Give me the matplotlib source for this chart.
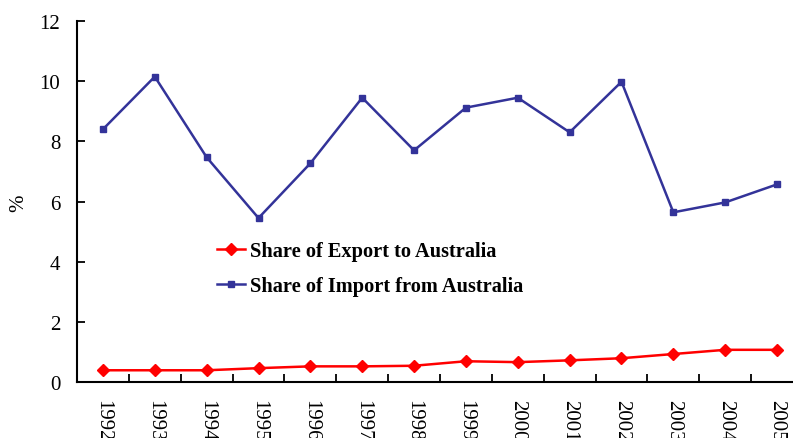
import matplotlib
matplotlib.use("Agg")
import matplotlib.pyplot as plt

# Data
years = ['1992', '1993', '1994', '1995', '1996', '1997', '1998',
         '1999', '2000', '2001', '2002', '2003', '2004', '2005']
export_share = [0.39, 0.39, 0.39, 0.46, 0.52, 0.52, 0.54,
                0.69, 0.66, 0.72, 0.79, 0.93, 1.07, 1.07]
import_share = [8.40, 10.15, 7.47, 5.45, 7.27, 9.45, 7.70,
                9.12, 9.45, 8.30, 9.98, 5.64, 5.97, 6.57]

plt.rcParams['font.family'] = ['Liberation Serif', 'DejaVu Serif']

fig = plt.figure(figsize=(7.93, 4.39), dpi=100)
# axes runs past the right edge, as in the cropped reference
ax = fig.add_axes([77 / 793, 1 - 383 / 439, 726 / 793, 361 / 439])

x = list(range(len(years)))
ax.plot(x, export_share, color='#ff0000', lw=1.8, marker='D', ms=6.5,
        label='Share of Export to Australia')
ax.plot(x, import_share, color='#333399', lw=1.8, marker='s', ms=4.5,
        label='Share of Import from Australia')

ax.set_xlim(-0.5, len(years) - 0.5)
ax.set_ylim(0, 12)
ax.set_yticks([0, 2, 4, 6, 8, 10, 12])
ax.set_xticks(x)
ax.set_xticklabels(years, rotation=-90, va='top', ha='center')
ax.set_xticks([i + 0.5 for i in x], minor=True)
ax.tick_params(axis='x', which='major', length=0, pad=12, labelsize=15)
ax.tick_params(axis='x', which='minor', direction='in', length=6, width=1.3)
ax.tick_params(axis='y', direction='in', length=6, width=1.3, labelsize=15, pad=12)

for side in ['top', 'right']:
    ax.spines[side].set_visible(False)
for side in ['left', 'bottom']:
    ax.spines[side].set_linewidth(1.5)

# y label sits well left of the tick labels
fig.text(19 / 793, 1 - 203 / 439, '%', rotation=90, ha='center', va='center',
         fontsize=15)

ax.legend(loc='upper left', bbox_to_anchor=(0.182, 0.414), frameon=False,
          prop={'weight': 'bold', 'size': 14.7}, handlelength=1.35,
          handletextpad=0.25, labelspacing=0.75, borderaxespad=0)

fig.savefig('out.png', dpi=100)
